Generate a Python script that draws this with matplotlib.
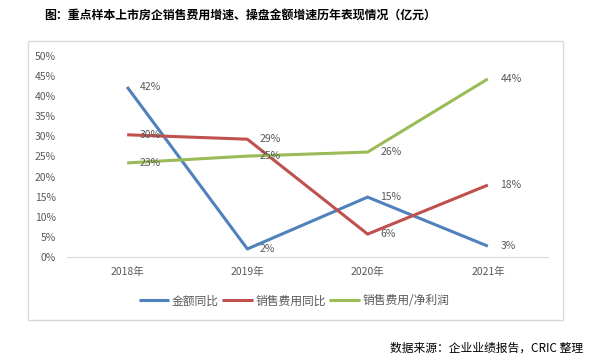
import matplotlib
matplotlib.use("Agg")
import matplotlib.pyplot as plt
from matplotlib.patches import Rectangle
from matplotlib.ticker import FuncFormatter

plt.rcParams['font.family'] = ['Noto Sans CJK SC', 'DejaVu Sans']

# -------------------- Data --------------------
years = ["2018年", "2019年", "2020年", "2021年"]
amount_yoy = [42.3, 2.0, 14.9, 2.7]        # 金额同比
sales_cost_yoy = [30.4, 29.3, 5.7, 17.9]   # 销售费用同比
cost_to_profit = [23.4, 25.1, 26.1, 44.3]  # 销售费用/净利润
series_names = ["金额同比", "销售费用同比", "销售费用/净利润"]

colors = ["#4F81BD", "#C0504D", "#9BBB59"]
text_gray = "#595959"

fig = plt.figure(figsize=(6.08, 3.63), dpi=100)
ax = fig.add_axes([67 / 608, 1 - 257 / 363, 481 / 608, 201 / 363])

x = range(len(years))
for vals, name, c in zip([amount_yoy, sales_cost_yoy, cost_to_profit], series_names, colors):
    ax.plot(x, vals, color=c, lw=2.2, label=name, solid_capstyle="butt")
    for xi, v in zip(x, vals):
        ax.annotate(f"{round(v):.0f}%", (xi, v), xytext=(9, 0), textcoords="offset points",
                    va="center", ha="left", fontsize=7.5, color=text_gray)

ax.set_xlim(-0.5, 3.5)
ax.set_ylim(0, 50)
ax.set_yticks(range(0, 51, 5))
ax.yaxis.set_major_formatter(FuncFormatter(lambda v, p: f"{v:.0f}%"))
ax.set_xticks(list(x))
ax.set_xticklabels(years)
ax.tick_params(axis="both", length=0, labelsize=7.5, labelcolor=text_gray)
ax.tick_params(axis="x", pad=7)
ax.tick_params(axis="y", pad=8)
for s in ["top", "right", "left"]:
    ax.spines[s].set_visible(False)
ax.spines["bottom"].set_color("#D9D9D9")

leg = fig.legend(loc="center", bbox_to_anchor=(294 / 608, 1 - 301 / 363), ncol=3,
                 frameon=False, fontsize=8.5, handlelength=2.6, handletextpad=0.2,
                 columnspacing=0.3)
for t in leg.get_texts():
    t.set_color(text_gray)

# outer chart border
fig.patches.append(Rectangle((28 / 608, 1 - 320 / 363), 535 / 608, 279 / 363,
                             transform=fig.transFigure, fill=False,
                             edgecolor="#D9D9D9", lw=1))

fig.text(44 / 608, 1 - 15 / 363, "图：重点样本上市房企销售费用增速、操盘金额增速历年表现情况（亿元）",
         fontsize=8.6, fontweight="bold", va="center", ha="left", color="black")
fig.text(583 / 608, 1 - 348 / 363, "数据来源：企业业绩报告，CRIC 整理",
         fontsize=8.5, va="center", ha="right", color="black")

fig.savefig("out.png", dpi=100)
